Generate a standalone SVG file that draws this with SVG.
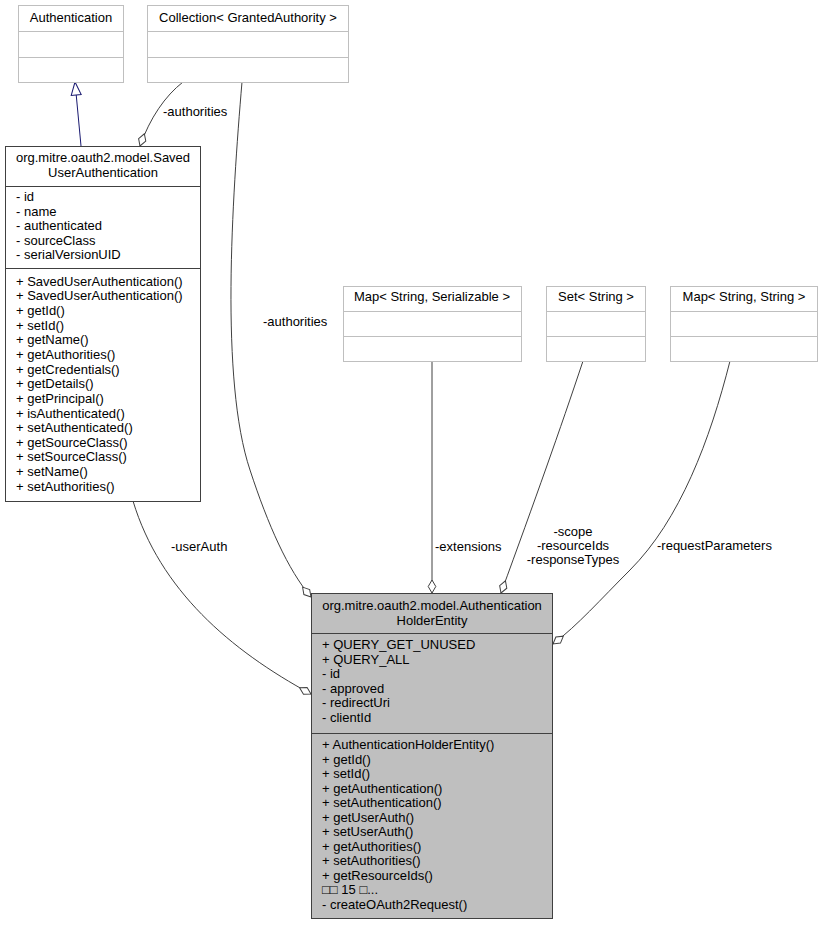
<svg xmlns="http://www.w3.org/2000/svg" width="823" height="925" viewBox="0 0 823 925">
<defs>
<style>
text{font-family:"Liberation Sans",Arial,"DejaVu Sans",sans-serif;font-size:13px;fill:#000}
.c{text-anchor:middle}
.ext{fill:#fff;stroke:#bfbfbf;stroke-width:1}
.extl{stroke:#bfbfbf;stroke-width:1}
.cls{fill:#fff;stroke:#404040;stroke-width:1}
.main{fill:#bfbfbf;stroke:#404040;stroke-width:1}
.ln{stroke:#404040;stroke-width:1}
.edge{fill:none;stroke:#404040;stroke-width:1}
.inh{fill:none;stroke:#191970;stroke-width:1}
</style>
<marker id="dia" markerUnits="userSpaceOnUse" viewBox="0 -5 15 10" markerWidth="15" markerHeight="10" refX="14" refY="0" orient="auto">
<path d="M1,0 L7.5,-3.8 L14,0 L7.5,3.8 Z" fill="#fff" stroke="#404040" stroke-width="1"/>
</marker>
<marker id="tri" markerUnits="userSpaceOnUse" viewBox="0 -6 15 12" markerWidth="15" markerHeight="12" refX="14" refY="0" orient="auto">
<path d="M1,-5 L14,0 L1,5 Z" fill="#fff" stroke="#191970" stroke-width="1"/>
</marker>
</defs>
<rect width="823" height="925" fill="#fff"/>

<g id="connectors">
<path class="inh" d="M81,146 L75,82" marker-end="url(#tri)"/>
<path class="edge" d="M183,82 C165,96 150,118 140,146" marker-end="url(#dia)"/>
<text x="163" y="116">-authorities</text>
<path class="edge" d="M242,82 C232,200 220,380 250,470 C268,525 288,570 311,597" marker-end="url(#dia)"/>
<text x="263" y="326">-authorities</text>
<path class="edge" d="M133,501 C160,590 230,650 311,694" marker-end="url(#dia)"/>
<text x="171" y="551">-userAuth</text>
<path class="edge" d="M432,361 L432,593" marker-end="url(#dia)"/>
<text x="435" y="551">-extensions</text>
<path class="edge" d="M583,361 C560,430 535,500 501,593" marker-end="url(#dia)"/>
<text class="c" x="573" y="536">-scope</text>
<text class="c" x="573" y="550">-resourceIds</text>
<text class="c" x="573" y="564">-responseTypes</text>
<path class="edge" d="M730,361 C710,440 680,520 630,570 C600,600 578,625 553,644" marker-end="url(#dia)"/>
<text x="657" y="550">-requestParameters</text>
</g>

<g id="node-authentication">
<rect class="ext" x="18.5" y="5.5" width="105" height="77"/>
<line class="extl" x1="18.5" y1="31.5" x2="123.5" y2="31.5"/>
<line class="extl" x1="18.5" y1="57.5" x2="123.5" y2="57.5"/>
<text class="c" x="71" y="22">Authentication</text>
</g>

<g id="node-collection">
<rect class="ext" x="147.5" y="5.5" width="201" height="77"/>
<line class="extl" x1="147.5" y1="31.5" x2="348.5" y2="31.5"/>
<line class="extl" x1="147.5" y1="57.5" x2="348.5" y2="57.5"/>
<text class="c" x="248" y="22">Collection&lt; GrantedAuthority &gt;</text>
</g>

<g id="node-map-serializable">
<rect class="ext" x="343.5" y="286.5" width="178" height="75"/>
<line class="extl" x1="343.5" y1="311.5" x2="521.5" y2="311.5"/>
<line class="extl" x1="343.5" y1="336.5" x2="521.5" y2="336.5"/>
<text class="c" x="432" y="301">Map&lt; String, Serializable &gt;</text>
</g>

<g id="node-set-string">
<rect class="ext" x="546.5" y="286.5" width="99" height="75"/>
<line class="extl" x1="546.5" y1="311.5" x2="645.5" y2="311.5"/>
<line class="extl" x1="546.5" y1="336.5" x2="645.5" y2="336.5"/>
<text class="c" x="596" y="301">Set&lt; String &gt;</text>
</g>

<g id="node-map-string">
<rect class="ext" x="670.5" y="286.5" width="147" height="75"/>
<line class="extl" x1="670.5" y1="311.5" x2="817.5" y2="311.5"/>
<line class="extl" x1="670.5" y1="336.5" x2="817.5" y2="336.5"/>
<text class="c" x="744" y="301">Map&lt; String, String &gt;</text>
</g>

<g id="node-saved-user-authentication">
<rect class="cls" x="5.5" y="146.5" width="195" height="355"/>
<line class="ln" x1="5.5" y1="186.5" x2="200.5" y2="186.5"/>
<line class="ln" x1="5.5" y1="268.5" x2="200.5" y2="268.5"/>
<text class="c" x="103" y="162">org.mitre.oauth2.model.Saved</text>
<text class="c" x="103" y="177">UserAuthentication</text>
<text x="16" y="201">- id</text>
<text x="16" y="215.6">- name</text>
<text x="16" y="230.2">- authenticated</text>
<text x="16" y="244.8">- sourceClass</text>
<text x="16" y="259.4">- serialVersionUID</text>
<text x="16" y="285.7">+ SavedUserAuthentication()</text>
<text x="16" y="300.3">+ SavedUserAuthentication()</text>
<text x="16" y="315">+ getId()</text>
<text x="16" y="329.6">+ setId()</text>
<text x="16" y="344.3">+ getName()</text>
<text x="16" y="358.9">+ getAuthorities()</text>
<text x="16" y="373.5">+ getCredentials()</text>
<text x="16" y="388.2">+ getDetails()</text>
<text x="16" y="402.8">+ getPrincipal()</text>
<text x="16" y="417.5">+ isAuthenticated()</text>
<text x="16" y="432.1">+ setAuthenticated()</text>
<text x="16" y="446.7">+ getSourceClass()</text>
<text x="16" y="461.4">+ setSourceClass()</text>
<text x="16" y="476">+ setName()</text>
<text x="16" y="490.7">+ setAuthorities()</text>
</g>

<g id="node-authentication-holder-entity">
<rect class="main" x="311.5" y="593.5" width="241" height="325"/>
<line class="ln" x1="311.5" y1="633.5" x2="552.5" y2="633.5"/>
<line class="ln" x1="311.5" y1="733.5" x2="552.5" y2="733.5"/>
<text class="c" x="432" y="610">org.mitre.oauth2.model.Authentication</text>
<text class="c" x="432" y="625">HolderEntity</text>
<text x="322" y="649">+ QUERY_GET_UNUSED</text>
<text x="322" y="663.5">+ QUERY_ALL</text>
<text x="322" y="678">- id</text>
<text x="322" y="692.5">- approved</text>
<text x="322" y="707">- redirectUri</text>
<text x="322" y="721.5">- clientId</text>
<text x="322" y="749">+ AuthenticationHolderEntity()</text>
<text x="322" y="763.5">+ getId()</text>
<text x="322" y="778">+ setId()</text>
<text x="322" y="792.5">+ getAuthentication()</text>
<text x="322" y="807">+ setAuthentication()</text>
<text x="322" y="821.5">+ getUserAuth()</text>
<text x="322" y="836">+ setUserAuth()</text>
<text x="322" y="850.5">+ getAuthorities()</text>
<text x="322" y="865">+ setAuthorities()</text>
<text x="322" y="879.5">+ getResourceIds()</text>
<text x="322" y="894">□□ 15 □...</text>
<text x="322" y="908.5">- createOAuth2Request()</text>
</g>
</svg>
